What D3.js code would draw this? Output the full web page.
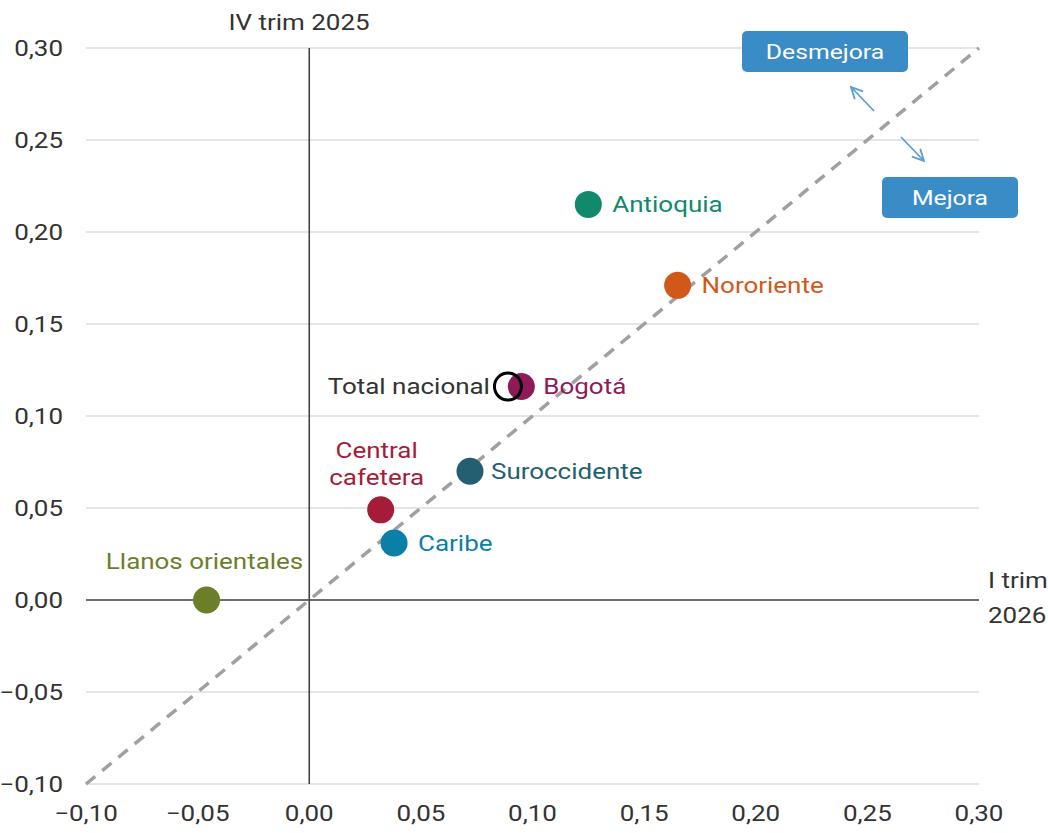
<!DOCTYPE html>
<html>
<head>
<meta charset="utf-8">
<script src="https://cdn.jsdelivr.net/npm/d3@7"></script>
<style>
  body { margin: 0; background: #fff; }
  svg { font-family: Roboto, "Noto Sans", sans-serif; }
</style>
</head>
<body>
<svg id="vis" width="1048" height="833"></svg>
<script>
// regions, x = I trim 2026, y = IV trim 2025
const regions = ["Antioquia", "Nororiente", "Bogotá", "Total nacional", "Suroccidente", "Central cafetera", "Caribe", "Llanos orientales"];
const xValues = [0.125, 0.165, 0.095, 0.089, 0.072, 0.032, 0.038, -0.046];
const yValues = [0.215, 0.171, 0.116, 0.116, 0.070, 0.049, 0.031, 0.000];
const colours = ["#108a6b", "#d2581a", "#8e1a58", "#000000", "#235f70", "#a51c38", "#0a7fa7", "#6b7f2a"];
const tickValues = [-0.10, -0.05, 0.00, 0.05, 0.10, 0.15, 0.20, 0.25, 0.30];

const MARGINS = {top: 48, right: 69, bottom: 49, left: 86};
const width = 1048, height = 833;
const STRETCH = 1.18; // text in the original is drawn a bit wider

const svg = d3.select("#vis");
const fmt = d => d3.format(".2f")(d).replace(".", ",");

// widen a text element horizontally around its anchor x
function stretch(sel){
    sel.attr("transform", function(){
        const ax = +d3.select(this).attr("x");
        return `translate(${ax},0) scale(${STRETCH},1) translate(${-ax},0)`;
    });
}

const x = d3.scaleLinear().domain([-0.10, 0.30]).range([MARGINS.left, width - MARGINS.right]);
const y = d3.scaleLinear().domain([-0.10, 0.30]).range([height - MARGINS.bottom, MARGINS.top]);

// horizontal grid
svg.append("g").selectAll("line")
    .data(tickValues)
    .enter().append("line")
    .attr("x1", x(-0.10)).attr("x2", x(0.30))
    .attr("y1", d => y(d)).attr("y2", d => y(d))
    .attr("stroke", "#dcdcdc").attr("stroke-width", 1.3);

// y tick labels
svg.append("g").selectAll("text")
    .data(tickValues)
    .enter().append("text")
    .attr("x", 63).attr("y", d => y(d))
    .attr("dy", "0.35em")
    .attr("text-anchor", "end")
    .attr("font-size", 22).attr("fill", "#333")
    .text(fmt)
    .call(stretch);

// x tick labels
svg.append("g").selectAll("text")
    .data(tickValues)
    .enter().append("text")
    .attr("x", d => x(d)).attr("y", 813)
    .attr("dy", "0.35em")
    .attr("text-anchor", "middle")
    .attr("font-size", 22).attr("fill", "#333")
    .text(fmt)
    .call(stretch);

// zero axes
svg.append("line")
    .attr("x1", x(0)).attr("x2", x(0))
    .attr("y1", y(0.30)).attr("y2", y(-0.10))
    .attr("stroke", "#444").attr("stroke-width", 1.6);
svg.append("line")
    .attr("x1", x(-0.10)).attr("x2", x(0.30))
    .attr("y1", y(0)).attr("y2", y(0))
    .attr("stroke", "#444").attr("stroke-width", 1.6);

// 45 degree line
svg.append("line")
    .attr("x1", x(-0.10)).attr("y1", y(-0.10))
    .attr("x2", x(0.30)).attr("y2", y(0.30))
    .attr("stroke", "#a0a0a0").attr("stroke-width", 3.5)
    .attr("stroke-dasharray", "12,9");

// axis titles
svg.append("text")
    .attr("x", 299).attr("y", 30)
    .attr("text-anchor", "middle")
    .attr("font-size", 22).attr("fill", "#333")
    .text("IV trim 2025")
    .call(stretch);
svg.append("text")
    .attr("x", 988).attr("y", 588)
    .attr("font-size", 22).attr("fill", "#333")
    .text("I trim")
    .call(stretch);
svg.append("text")
    .attr("x", 988).attr("y", 623)
    .attr("font-size", 22).attr("fill", "#333")
    .text("2026")
    .call(stretch);

// data points
const data = regions.map((r, i) => ({name: r, x: xValues[i], y: yValues[i], c: colours[i]}));

svg.append("g").selectAll("circle")
    .data(data)
    .enter().append("circle")
    .attr("cx", d => x(d.x))
    .attr("cy", d => y(d.y))
    .attr("r", 13.5)
    .attr("fill", d => d.name === "Total nacional" ? "none" : d.c)
    .attr("stroke", d => d.name === "Total nacional" ? "#000" : "none")
    .attr("stroke-width", 3)
    .sort((a, b) => (a.name === "Total nacional") - (b.name === "Total nacional"));

// labels
const labelPos = {
    "Antioquia": {dx: 24, dy: 0, anchor: "start"},
    "Nororiente": {dx: 24, dy: 0, anchor: "start"},
    "Bogotá": {dx: 22, dy: 0, anchor: "start"},
    "Total nacional": {dx: -18, dy: 0, anchor: "end"},
    "Suroccidente": {dx: 21, dy: 0, anchor: "start"},
    "Central cafetera": {dx: -4, dy: -60, anchor: "middle"},
    "Caribe": {dx: 24, dy: 0, anchor: "start"},
    "Llanos orientales": {dx: -2, dy: -39, anchor: "middle"}
};

const labels = svg.append("g").selectAll("text")
    .data(data)
    .enter().append("text")
    .attr("x", d => x(d.x) + labelPos[d.name].dx)
    .attr("y", d => y(d.y) + labelPos[d.name].dy)
    .attr("dy", "0.35em")
    .attr("text-anchor", d => labelPos[d.name].anchor)
    .attr("font-size", 22)
    .attr("fill", d => d.name === "Total nacional" ? "#333" : d.c);

labels.each(function(d){
    const t = d3.select(this);
    if (d.name === "Central cafetera") {
        t.append("tspan").attr("x", x(d.x) + labelPos[d.name].dx).text("Central");
        t.append("tspan").attr("x", x(d.x) + labelPos[d.name].dx).attr("dy", "1.27em").text("cafetera");
    } else {
        t.text(d.name);
    }
});
labels.call(stretch);

// Desmejora / Mejora boxes
const boxes = [
    {text: "Desmejora", x: 742, y: 31, w: 166, h: 41},
    {text: "Mejora", x: 882, y: 177, w: 136, h: 41}
];
const bg = svg.append("g").selectAll("g").data(boxes).enter().append("g");
bg.append("rect")
    .attr("x", d => d.x).attr("y", d => d.y)
    .attr("width", d => d.w).attr("height", d => d.h)
    .attr("rx", 5)
    .attr("fill", "#3a8cc6");
bg.append("text")
    .attr("x", d => d.x + d.w / 2).attr("y", d => d.y + d.h / 2)
    .attr("dy", "0.35em")
    .attr("text-anchor", "middle")
    .attr("font-size", 21).attr("fill", "#fff")
    .text(d => d.text)
    .call(stretch);

// arrows
const defs = svg.append("defs");
defs.append("marker")
    .attr("id", "arr")
    .attr("viewBox", "0 0 10 10")
    .attr("refX", 9).attr("refY", 5)
    .attr("markerWidth", 8).attr("markerHeight", 8)
    .attr("orient", "auto")
    .append("path")
    .attr("d", "M1,1 L9,5 L1,9")
    .attr("fill", "none").attr("stroke", "#5b9fd6").attr("stroke-width", 1.3);

svg.append("line")
    .attr("x1", 874).attr("y1", 111).attr("x2", 851).attr("y2", 87)
    .attr("stroke", "#5b9fd6").attr("stroke-width", 1.8)
    .attr("marker-end", "url(#arr)");
svg.append("line")
    .attr("x1", 901).attr("y1", 137).attr("x2", 924).attr("y2", 161)
    .attr("stroke", "#5b9fd6").attr("stroke-width", 1.8)
    .attr("marker-end", "url(#arr)");
</script>
</body>
</html>
